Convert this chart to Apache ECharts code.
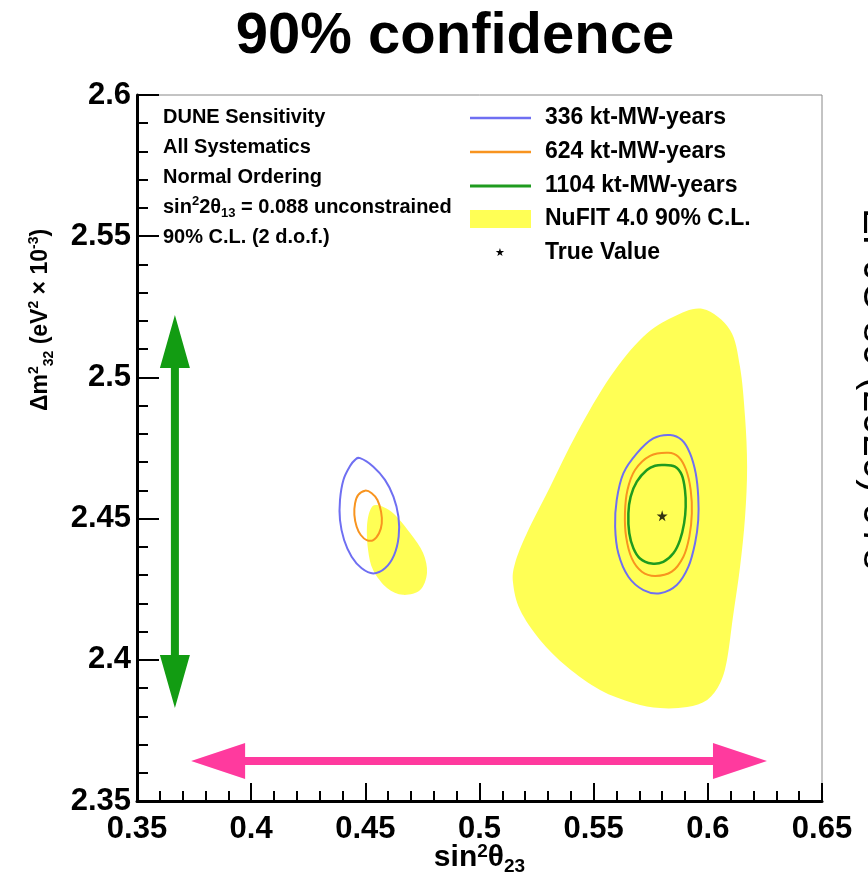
<!DOCTYPE html>
<html>
<head>
<meta charset="utf-8">
<script src="https://cdn.jsdelivr.net/npm/echarts@6/dist/echarts.min.js"></script>
<style>
html,body{margin:0;padding:0;background:#fff;}
#chart{width:868px;height:878px;}
</style>
</head>
<body>
<div id="chart"></div>
<script>
// ---- data (sin^2 theta23, Delta m^2_32 [1e-3 eV^2]) ----
const nufitMain = [[0.5979,2.5242],[0.6097,2.5168],[0.6141,2.5037],[0.6163,2.4860],[0.6172,2.4683],[0.6163,2.4506],[0.6141,2.4329],[0.6110,2.4152],[0.6084,2.4000],[0.6054,2.3918],[0.5997,2.3858],[0.5909,2.3833],[0.5791,2.3829],[0.5672,2.3847],[0.5528,2.3893],[0.5383,2.3975],[0.5265,2.4070],[0.5178,2.4176],[0.5147,2.4272],[0.5156,2.4343],[0.5208,2.4449],[0.5309,2.4612],[0.5427,2.4803],[0.5572,2.5001],[0.5716,2.5143],[0.5848,2.5214]];
const nufitSmall = [[0.4551,2.4548],[0.4621,2.4520],[0.4696,2.4449],[0.4753,2.4378],[0.4770,2.4307],[0.4740,2.4247],[0.4665,2.4230],[0.4595,2.4254],[0.4534,2.4318],[0.4512,2.4389],[0.4507,2.4470],[0.4521,2.4530]];
const c336Right = [[0.5835,2.4796],[0.5886,2.4778],[0.5922,2.4731],[0.5947,2.4660],[0.5958,2.4578],[0.5958,2.4495],[0.5944,2.4413],[0.5915,2.4330],[0.5864,2.4265],[0.5791,2.4236],[0.5718,2.4247],[0.5652,2.4294],[0.5608,2.4377],[0.5594,2.4471],[0.5601,2.4566],[0.5630,2.4660],[0.5689,2.4731],[0.5761,2.4784]];
const c336Left = [[0.4477,2.4714],[0.4535,2.4684],[0.4586,2.4637],[0.4623,2.4578],[0.4645,2.4507],[0.4646,2.4436],[0.4626,2.4371],[0.4586,2.4324],[0.4535,2.4306],[0.4484,2.4324],[0.4440,2.4365],[0.4407,2.4424],[0.4389,2.4495],[0.4389,2.4566],[0.4404,2.4637],[0.4433,2.4686],[0.4455,2.4708]];
const c624Right = [[0.5827,2.4733],[0.5871,2.4719],[0.5905,2.4672],[0.5925,2.4601],[0.5930,2.4519],[0.5919,2.4436],[0.5893,2.4365],[0.5842,2.4312],[0.5769,2.4297],[0.5711,2.4312],[0.5667,2.4359],[0.5642,2.4436],[0.5637,2.4519],[0.5648,2.4601],[0.5681,2.4672],[0.5747,2.4722]];
const c624Left = [[0.4499,2.4599],[0.4528,2.4590],[0.4553,2.4566],[0.4569,2.4524],[0.4572,2.4483],[0.4560,2.4448],[0.4535,2.4424],[0.4506,2.4424],[0.4480,2.4442],[0.4462,2.4471],[0.4452,2.4513],[0.4455,2.4554],[0.4469,2.4584]];
const c1104Right = [[0.5805,2.4690],[0.5856,2.4684],[0.5886,2.4654],[0.5900,2.4601],[0.5903,2.4542],[0.5896,2.4483],[0.5878,2.4424],[0.5849,2.4377],[0.5805,2.4347],[0.5754,2.4341],[0.5703,2.4359],[0.5674,2.4395],[0.5656,2.4448],[0.5652,2.4519],[0.5662,2.4578],[0.5689,2.4631],[0.5733,2.4672],[0.5769,2.4687]];
const trueValue = [[0.58,2.451]];
const greenArrow = [[0.3666,2.5221],[0.3666,2.3829]];
const pinkArrow = [[0.3737,2.3642],[0.6259,2.3642]];

const xRange = [0.35, 0.65];
const yRange = [2.35, 2.6];
const tickStep = 0.05;

const legendNames = ['336 kt-MW-years','624 kt-MW-years','1104 kt-MW-years','NuFIT 4.0 90% C.L.','True Value'];
const infoLines = ['DUNE Sensitivity','All Systematics','Normal Ordering'];

// ---- styles ----
const C_BLUE = '#6f6ff2', C_ORANGE = '#f8941f', C_GREEN = '#1f9b1f', C_YELLOW = '#ffff55';
const C_GARROW = '#129c12', C_PARROW = '#ff3a9e';
const FONT = '"Liberation Sans", Arial, Helvetica, sans-serif';

// closed Catmull-Rom curve through projected points (rendering only)
function closedCurve(P) {
  const n = P.length;
  let d = 'M' + P[0][0] + ' ' + P[0][1];
  for (let i = 0; i < n; i++) {
    const p0 = P[(i - 1 + n) % n], p1 = P[i], p2 = P[(i + 1) % n], p3 = P[(i + 2) % n];
    const c1 = [p1[0] + (p2[0] - p0[0]) / 6, p1[1] + (p2[1] - p0[1]) / 6];
    const c2 = [p2[0] - (p3[0] - p1[0]) / 6, p2[1] - (p3[1] - p1[1]) / 6];
    d += ' C' + c1[0] + ' ' + c1[1] + ' ' + c2[0] + ' ' + c2[1] + ' ' + p2[0] + ' ' + p2[1];
  }
  return d + ' Z';
}

function shape(name, pts, style, z) {
  return {
    type: 'custom', name: name, data: pts, z: z, clip: true,
    renderItem: function (params, api) {
      if (params.dataIndex !== 0) return null;
      return { type: 'path', shape: { pathData: closedCurve(pts.map(p => api.coord(p))) }, style: style };
    }
  };
}
function arrow(pts, color, headLen, headHalf, shaftHalf) {
  return {
    type: 'custom', data: pts, z: 10, clip: false,
    renderItem: function (params, api) {
      if (params.dataIndex !== 0) return null;
      const a = api.coord(pts[0]), b = api.coord(pts[1]);
      const dx = b[0] - a[0], dy = b[1] - a[1], L = Math.hypot(dx, dy);
      const ux = dx / L, uy = dy / L, nx = -uy, ny = ux;
      const P = (t, s) => [a[0] + ux * t + nx * s, a[1] + uy * t + ny * s];
      const poly = [P(0, 0), P(headLen, headHalf), P(headLen, shaftHalf), P(L - headLen, shaftHalf), P(L - headLen, headHalf),
                    P(L, 0), P(L - headLen, -headHalf), P(L - headLen, -shaftHalf), P(headLen, -shaftHalf), P(headLen, -headHalf)];
      return { type: 'polygon', shape: { points: poly }, style: { fill: color } };
    }
  };
}

const fmt = v => String(parseFloat(v.toFixed(2)));

const chart = echarts.init(document.getElementById('chart'), null, { renderer: 'canvas' });

const starPath = 'path://M50,0 L61,35 L98,35 L68,57 L79,91 L50,70 L21,91 L32,57 L2,35 L39,35 Z';

const txt = (x, y, text, size) => ({ type: 'text', x: x, y: y, z: 100,
  style: { text: text, font: 'bold ' + size + 'px ' + FONT, fill: '#000', verticalAlign: 'middle', textVerticalAlign: 'middle' } });

const option = {
  backgroundColor: '#fff',
  animation: false,
  grid: { left: 137, right: 46, top: 95, bottom: 77, containLabel: false, outerBoundsMode: 'none',
          show: true, borderColor: '#888', borderWidth: 1, backgroundColor: '#fff' },
  xAxis: {
    type: 'value', min: xRange[0], max: xRange[1], interval: tickStep,
    axisLine: { show: true, onZero: false, lineStyle: { color: '#000', width: 3 } },
    axisTick: { show: true, inside: true, length: 18, lineStyle: { color: '#000', width: 2 } },
    minorTick: { show: true, splitNumber: 5, length: 10, lineStyle: { color: '#000', width: 2 } },
    splitLine: { show: false },
    axisLabel: { margin: 13, formatter: fmt, fontSize: 31, fontWeight: 'bold', fontFamily: FONT, color: '#000' },
    name: '{a|sin}{sup|2}{a|θ}{sub|23}',
    nameLocation: 'middle', nameGap: 39, nameMoveOverlap: false,
    nameTextStyle: {
      rich: {
        a: { fontSize: 30, fontWeight: 'bold', fontFamily: FONT, color: '#000', lineHeight: 36, verticalAlign: 'middle' },
        sup: { fontSize: 19, fontWeight: 'bold', fontFamily: FONT, color: '#000', lineHeight: 36, verticalAlign: 'top', padding: [2, 0, 0, 0] },
        sub: { fontSize: 19, fontWeight: 'bold', fontFamily: FONT, color: '#000', lineHeight: 36, verticalAlign: 'bottom' }
      }
    }
  },
  yAxis: {
    type: 'value', min: yRange[0], max: yRange[1], interval: tickStep,
    axisLine: { show: true, onZero: false, lineStyle: { color: '#000', width: 3 } },
    axisTick: { show: true, inside: true, length: 22, lineStyle: { color: '#000', width: 2 } },
    minorTick: { show: true, splitNumber: 5, length: 11, lineStyle: { color: '#000', width: 2 } },
    splitLine: { show: false },
    axisLabel: { margin: 6, formatter: fmt, fontSize: 31, fontWeight: 'bold', fontFamily: FONT, color: '#000' }
  },
  series: [
    shape('NuFIT 4.0 90% C.L.', nufitMain, { fill: C_YELLOW, stroke: null }, 1),
    shape('NuFIT 4.0 90% C.L. (lower octant)', nufitSmall, { fill: C_YELLOW, stroke: null }, 1),
    shape('336 kt-MW-years', c336Right, { fill: 'none', stroke: C_BLUE, lineWidth: 2 }, 3),
    shape('336 kt-MW-years (lower octant)', c336Left, { fill: 'none', stroke: C_BLUE, lineWidth: 2 }, 3),
    shape('624 kt-MW-years', c624Right, { fill: 'none', stroke: C_ORANGE, lineWidth: 2 }, 4),
    shape('624 kt-MW-years (lower octant)', c624Left, { fill: 'none', stroke: C_ORANGE, lineWidth: 2 }, 4),
    shape('1104 kt-MW-years', c1104Right, { fill: 'none', stroke: C_GREEN, lineWidth: 2.5 }, 5),
    { type: 'scatter', name: 'True Value', data: trueValue, symbol: starPath, symbolSize: 11, itemStyle: { color: '#000' }, z: 6 },
    arrow(greenArrow, C_GARROW, 53, 15, 4),
    arrow(pinkArrow, C_PARROW, 54, 18, 4)
  ],
  graphic: [
    { type: 'text', x: 455, y: 37, z: 100,
      style: { text: '90% confidence', font: 'bold 58px ' + FONT, fill: '#000', align: 'center', verticalAlign: 'middle', textAlign: 'center', textVerticalAlign: 'middle' } },
    // y-axis title
    { type: 'text', x: 41, y: 320, rotation: Math.PI / 2, z: 100,
      style: {
        text: '{a|Δm}{sup|2}{sub|32}{a| (eV}{sup|2}{a| × 10}{sup|-3}{a|)}',
        align: 'center', verticalAlign: 'middle', textAlign: 'center', textVerticalAlign: 'middle',
        rich: {
          a: { fontSize: 23, fontWeight: 'bold', fontFamily: FONT, fill: '#000', lineHeight: 30, verticalAlign: 'middle' },
          sup: { fontSize: 14, fontWeight: 'bold', fontFamily: FONT, fill: '#000', lineHeight: 30, verticalAlign: 'top', padding: [1, 0, 0, 0] },
          sub: { fontSize: 14, fontWeight: 'bold', fontFamily: FONT, fill: '#000', lineHeight: 30, verticalAlign: 'bottom' }
        }
      } },
    // info text block
    txt(163, 117, infoLines[0], 20),
    txt(163, 147, infoLines[1], 20),
    txt(163, 177, infoLines[2], 20),
    { type: 'text', x: 163, y: 207, z: 100,
      style: {
        text: '{a|sin}{sup|2}{a|2θ}{sub|13}{a| = 0.088 unconstrained}',
        verticalAlign: 'middle', textVerticalAlign: 'middle',
        rich: {
          a: { fontSize: 20, fontWeight: 'bold', fontFamily: FONT, fill: '#000', lineHeight: 26, verticalAlign: 'middle' },
          sup: { fontSize: 13, fontWeight: 'bold', fontFamily: FONT, fill: '#000', lineHeight: 26, verticalAlign: 'top', padding: [1, 0, 0, 0] },
          sub: { fontSize: 13, fontWeight: 'bold', fontFamily: FONT, fill: '#000', lineHeight: 26, verticalAlign: 'bottom' }
        }
      } },
    txt(163, 237, '90% C.L. (2 d.o.f.)', 20),
    // legend
    { type: 'line', z: 100, shape: { x1: 470, y1: 118, x2: 531, y2: 118 }, style: { stroke: C_BLUE, lineWidth: 2.5 } },
    { type: 'line', z: 100, shape: { x1: 470, y1: 152, x2: 531, y2: 152 }, style: { stroke: C_ORANGE, lineWidth: 2.5 } },
    { type: 'line', z: 100, shape: { x1: 470, y1: 186, x2: 531, y2: 186 }, style: { stroke: C_GREEN, lineWidth: 3 } },
    { type: 'rect', z: 100, shape: { x: 470, y: 210, width: 61, height: 18 }, style: { fill: C_YELLOW } },
    txt(545, 118, legendNames[0], 23),
    txt(545, 152, legendNames[1], 23),
    txt(545, 186, legendNames[2], 23),
    txt(545, 219, legendNames[3], 23),
    txt(545, 253, legendNames[4], 23),
    { type: 'text', x: 500, y: 253, z: 100, style: { text: '★', font: '11px "DejaVu Sans"', fill: '#000', align: 'center', verticalAlign: 'middle', textAlign: 'center', textVerticalAlign: 'middle' } },
    // clipped reference on the right edge
    { type: 'text', x: 855, y: 208, rotation: -Math.PI / 2, z: 100,
      style: { text: 'EPJC 80 (2020) 978', font: '40px "Liberation Sans"', fill: '#000', verticalAlign: 'bottom', textVerticalAlign: 'bottom' } }
  ]
};
chart.setOption(option);
</script>
</body>
</html>
